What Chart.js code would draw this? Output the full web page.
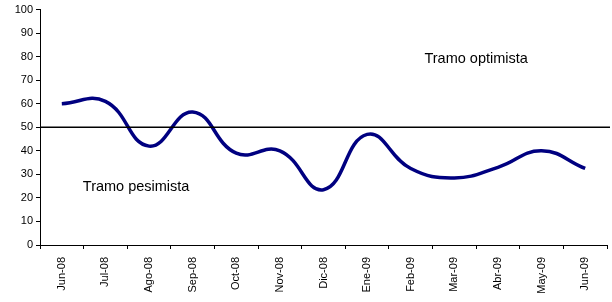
<!DOCTYPE html>
<html><head><meta charset="utf-8">
<script src="https://cdn.jsdelivr.net/npm/chart.js@4/dist/chart.umd.min.js"></script>
<style>html,body{margin:0;padding:0;background:#fff}#wrap{width:612px;height:302px}</style>
</head><body><div id="wrap"><canvas id="c" width="612" height="302"></canvas></div>
<script>
const categories = ['Jun-08','Jul-08','Ago-08','Sep-08','Oct-08','Nov-08','Dic-08','Ene-09','Feb-09','Mar-09','Abr-09','May-09','Jun-09'];
const indexValues = [60, 61, 42, 56.5, 39, 40, 23.5, 47, 32.5, 28.5, 33, 40, 32.5];
const threshold = 50;
const yTicks = [0,10,20,30,40,50,60,70,80,90,100];
const labelUpper = 'Tramo optimista';
const labelLower = 'Tramo pesimista';

const overlay = {
  id: 'overlay',
  afterDatasetsDraw(chart) {
    const {ctx, chartArea, scales} = chart;
    const y = scales.y.getPixelForValue(threshold);
    ctx.save();
    ctx.strokeStyle = '#000';
    ctx.lineWidth = 1.5;
    ctx.beginPath();
    ctx.moveTo(chartArea.left, y);
    ctx.lineTo(chartArea.right + 3, y);
    ctx.stroke();
    ctx.fillStyle = '#000';
    ctx.font = '14.5px "Liberation Sans", Arial, sans-serif';
    ctx.textBaseline = 'middle';
    ctx.textAlign = 'center';
    ctx.fillText(labelUpper, (scales.x.getPixelForValue(9) + scales.x.getPixelForValue(10)) / 2, scales.y.getPixelForValue(79));
    ctx.textAlign = 'left';
    ctx.fillText(labelLower, scales.x.getPixelForValue(0) + 21, scales.y.getPixelForValue(24.5));
    ctx.restore();
  }
};

new Chart(document.getElementById('c'), {
  type: 'line',
  data: {
    labels: categories,
    datasets: [{
      data: indexValues,
      borderColor: '#000080',
      borderWidth: 3.5,
      pointRadius: 0,
      tension: 0.45,
      fill: false
    }]
  },
  options: {
    responsive: false,
    animation: false,
    events: [],
    layout: {padding: {top: 4, right: 5, left: 0, bottom: 0}},
    plugins: {legend: {display: false}, tooltip: {enabled: false}},
    scales: {
      x: {
        type: 'category',
        offset: true,
        grid: {offset: true, drawOnChartArea: false, drawTicks: true, tickLength: 4, color: '#000', lineWidth: 1},
        border: {display: true, color: '#000', width: 1},
        ticks: {
          color: '#000', maxRotation: 90, minRotation: 90, autoSkip: false, padding: 8,
          font: {family: '"Liberation Sans", Arial, sans-serif', size: 11}
        },
        afterFit(s) { s.height = 57; }
      },
      y: {
        min: 0, max: 100,
        afterBuildTicks(s) { s.ticks = yTicks.map(v => ({value: v})); },
        grid: {drawOnChartArea: false, drawTicks: true, tickLength: 4, color: '#000', lineWidth: 1},
        border: {display: true, color: '#000', width: 1},
        ticks: {color: '#000', padding: 3, font: {family: '"Liberation Sans", Arial, sans-serif', size: 11}},
        afterFit(s) { s.width = 40; }
      }
    }
  },
  plugins: [overlay]
});
</script></body></html>
